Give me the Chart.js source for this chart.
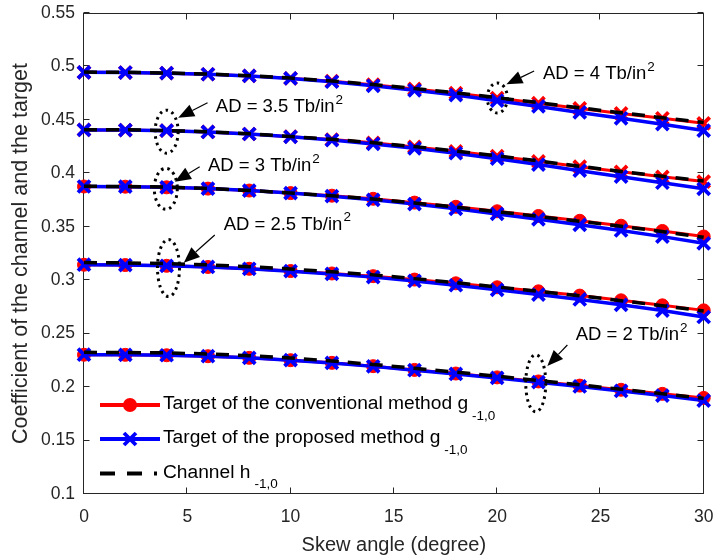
<!DOCTYPE html>
<html><head><meta charset="utf-8">
<script src="https://cdn.jsdelivr.net/npm/chart.js@4.4.1/dist/chart.umd.min.js"></script>
<style>html,body{margin:0;padding:0;background:#fff;}#wrap{width:716px;height:558px;}</style>
</head><body><div id="wrap"><canvas id="c" width="716" height="558"></canvas></div>
<script>
// ---------- data ----------
const skewAngles = [0,2,4,6,8,10,12,14,16,18,20,22,24,26,28,30];
const xTickValues = [0,5,10,15,20,25,30];
const xTickLabels = ['0','5','10','15','20','25','30'];
const yTickValues = [0.1,0.15,0.2,0.25,0.3,0.35,0.4,0.45,0.5,0.55];
const yTickLabels = ['0.1','0.15','0.2','0.25','0.3','0.35','0.4','0.45','0.5','0.55'];

// Target of the conventional method g_{-1,0}
const conv_AD4  = [0.4945,0.4943,0.4937,0.4927,0.4911,0.4889,0.4862,0.4829,0.4790,0.4750,0.4704,0.4656,0.4607,0.4560,0.4515,0.4468];
const conv_AD35 = [0.4406,0.4405,0.4399,0.4387,0.4368,0.4343,0.4316,0.4285,0.4247,0.4206,0.4161,0.4112,0.4062,0.4014,0.3967,0.3923];
const conv_AD3  = [0.3877,0.3875,0.3869,0.3857,0.3839,0.3815,0.3791,0.3762,0.3726,0.3687,0.3645,0.3601,0.3556,0.3510,0.3461,0.3409];
const conv_AD25 = [0.3145,0.3142,0.3135,0.3124,0.3107,0.3086,0.3063,0.3038,0.3006,0.2971,0.2934,0.2896,0.2856,0.2812,0.2765,0.2718];
const conv_AD2  = [0.2303,0.2302,0.2298,0.2289,0.2274,0.2252,0.2227,0.2196,0.2161,0.2127,0.2091,0.2053,0.2014,0.1975,0.1937,0.1899];
// Target of the proposed method g_{-1,0}
const prop_AD4  = [0.4945,0.4943,0.4937,0.4927,0.4911,0.4888,0.4857,0.4819,0.4777,0.4732,0.4680,0.4626,0.4570,0.4515,0.4460,0.4400];
const prop_AD35 = [0.4406,0.4405,0.4399,0.4387,0.4368,0.4342,0.4311,0.4275,0.4234,0.4188,0.4137,0.4082,0.4025,0.3969,0.3912,0.3855];
const prop_AD3  = [0.3877,0.3875,0.3869,0.3857,0.3839,0.3815,0.3786,0.3752,0.3712,0.3668,0.3620,0.3570,0.3518,0.3465,0.3408,0.3345];
const prop_AD25 = [0.3145,0.3142,0.3135,0.3124,0.3107,0.3085,0.3059,0.3029,0.2993,0.2953,0.2910,0.2866,0.2820,0.2770,0.2716,0.2656];
const prop_AD2  = [0.2303,0.2302,0.2298,0.2289,0.2274,0.2252,0.2226,0.2194,0.2158,0.2123,0.2086,0.2046,0.2006,0.1964,0.1921,0.1874];
// Channel h_{-1,0}
const chan_AD4  = [0.4947,0.4945,0.4939,0.4929,0.4913,0.4891,0.4864,0.4831,0.4793,0.4753,0.4708,0.4661,0.4613,0.4566,0.4521,0.4475];
const chan_AD35 = [0.4408,0.4407,0.4401,0.4389,0.4370,0.4345,0.4318,0.4287,0.4250,0.4209,0.4164,0.4116,0.4066,0.4018,0.3972,0.3928];
const chan_AD3  = [0.3879,0.3877,0.3871,0.3859,0.3840,0.3816,0.3790,0.3760,0.3723,0.3684,0.3641,0.3597,0.3551,0.3505,0.3455,0.3402];
const chan_AD25 = [0.3165,0.3162,0.3155,0.3144,0.3126,0.3104,0.3079,0.3050,0.3015,0.2977,0.2937,0.2896,0.2854,0.2809,0.2761,0.2713];
const chan_AD2  = [0.2325,0.2324,0.2320,0.2310,0.2294,0.2272,0.2245,0.2212,0.2176,0.2140,0.2102,0.2062,0.2021,0.1980,0.1938,0.1895];

const legendLabels = ['Target of the conventional method g', 'Target of the proposed method g', 'Channel h'];
const legendSubs = ['-1,0', '-1,0', '-1,0'];
const xTitle = 'Skew angle (degree)';
const yTitle = 'Coefficient of the channel and the target';

// annotations (in data coordinates)
const annotations = [
  {text:'AD = 4 Tb/in',   sup:'2', tx:22.22, ty:0.4931, ex:20.01, ey:0.4705, rx:10,   ry:15,   ax0:21.79, ay0:0.4957, ax1:20.45, ay1:0.4833},
  {text:'AD = 3.5 Tb/in', sup:'2', tx:6.38,  ty:0.4621, ex:4.00,  ey:0.4390, rx:11.5, ry:21.5, ax0:5.98,  ay0:0.4661, ax1:4.56,  ay1:0.4520},
  {text:'AD = 3 Tb/in',   sup:'2', tx:6.00,  ty:0.4069, ex:3.96,  ey:0.3855, rx:11.5, ry:20.5, ax0:5.60,  ay0:0.4062, ax1:4.40,  ay1:0.3922},
  {text:'AD = 2.5 Tb/in', sup:'2', tx:6.76,  ty:0.3519, ex:4.09,  ey:0.3114, rx:11,   ry:28.5, ax0:6.33,  ay0:0.3423, ax1:4.83,  ay1:0.3164},
  {text:'AD = 2 Tb/in',   sup:'2', tx:23.80, ty:0.2488, ex:21.87, ey:0.2036, rx:10,   ry:28.5, ax0:23.40, ay0:0.2394, ax1:22.43, ay1:0.2198}
];

// ---------- styles ----------
const RED = '#ff0000', BLUE = '#0000ff', BLACK = '#000000';
const FONT = '"Liberation Sans", Arial, sans-serif';
const AXC = '#262626';

function toXY(arr){ return arr.map((v,i)=>({x:skewAngles[i], y:v})); }

function convDS(arr, marker){
  return {data:toXY(arr), borderColor:RED, backgroundColor:RED, borderWidth:3,
    pointStyle:marker, pointRadius: marker==='circle'?6.5:8.5, pointBorderWidth: marker==='circle'?1:3.8,
    pointBackgroundColor:RED, pointBorderColor:RED, order:3, clip:false, tension:0};
}
function propDS(arr){
  return {data:toXY(arr), borderColor:BLUE, backgroundColor:BLUE, borderWidth:3.5,
    pointStyle:'crossRot', pointRadius:8.5, pointBorderWidth:3.8,
    pointBorderColor:BLUE, order:2, clip:false, tension:0};
}
function chanDS(arr){
  return {data:toXY(arr), borderColor:BLACK, borderWidth:3.5, borderDash:[13,9],
    pointRadius:0, order:1, clip:false, tension:0};
}

const datasets = [
  convDS(conv_AD4,'crossRot'), convDS(conv_AD35,'crossRot'), convDS(conv_AD3,'circle'), convDS(conv_AD25,'circle'), convDS(conv_AD2,'circle'),
  propDS(prop_AD4), propDS(prop_AD35), propDS(prop_AD3), propDS(prop_AD25), propDS(prop_AD2),
  chanDS(chan_AD4), chanDS(chan_AD35), chanDS(chan_AD3), chanDS(chan_AD25), chanDS(chan_AD2)
];

const framePlugin = {
  id:'frame',
  beforeDatasetsDraw(chart){
    const {ctx, chartArea:a, scales:{x,y}} = chart;
    ctx.save();
    ctx.strokeStyle = AXC; ctx.lineWidth = 1;
    const L = Math.round(a.left)-0.5, R = Math.round(a.right)-0.5, T = Math.round(a.top)+0.5, B = Math.round(a.bottom)-0.5;
    ctx.strokeRect(L, T, R-L, B-T);
    const tl = 6;
    ctx.beginPath();
    xTickValues.forEach(v=>{
      const px = Math.round(x.getPixelForValue(v))-0.5;
      ctx.moveTo(px,B); ctx.lineTo(px,B-tl);
      ctx.moveTo(px,T); ctx.lineTo(px,T+tl);
    });
    yTickValues.forEach(v=>{
      const py = Math.round(y.getPixelForValue(v))-0.5;
      ctx.moveTo(L,py); ctx.lineTo(L+tl,py);
      ctx.moveTo(R,py); ctx.lineTo(R-tl,py);
    });
    ctx.stroke();
    ctx.restore();
  }
};

const annotPlugin = {
  id:'annot',
  afterDatasetsDraw(chart){
    const {ctx, scales:{x,y}} = chart;
    ctx.save();
    annotations.forEach(a=>{
      const cx = x.getPixelForValue(a.ex), cy = y.getPixelForValue(a.ey);
      ctx.beginPath();
      ctx.setLineDash([2.5,4]);
      ctx.lineWidth = 3; ctx.strokeStyle = '#000';
      ctx.ellipse(cx, cy, a.rx, a.ry, 0, 0, Math.PI*2);
      ctx.stroke();
      ctx.setLineDash([]);
      const x0 = x.getPixelForValue(a.ax0), y0 = y.getPixelForValue(a.ay0);
      const x1 = x.getPixelForValue(a.ax1), y1 = y.getPixelForValue(a.ay1);
      const ang = Math.atan2(y1-y0, x1-x0);
      const hl = 16, hw = 6.5;
      const bx = x1 - hl*Math.cos(ang), by = y1 - hl*Math.sin(ang);
      ctx.lineWidth = 1.2;
      ctx.beginPath(); ctx.moveTo(x0,y0); ctx.lineTo(bx,by); ctx.stroke();
      ctx.beginPath();
      ctx.moveTo(x1,y1);
      ctx.lineTo(bx + hw*Math.sin(ang), by - hw*Math.cos(ang));
      ctx.lineTo(bx - hw*Math.sin(ang), by + hw*Math.cos(ang));
      ctx.closePath(); ctx.fillStyle = '#000'; ctx.fill();
      const tx = x.getPixelForValue(a.tx), ty = y.getPixelForValue(a.ty);
      ctx.fillStyle = '#000';
      ctx.textBaseline = 'middle'; ctx.textAlign = 'left';
      ctx.font = '18.5px ' + FONT;
      ctx.fillText(a.text, tx, ty);
      const w = ctx.measureText(a.text).width;
      ctx.font = '13.5px ' + FONT;
      ctx.fillText(a.sup, tx + w + 1, ty - 7);
    });
    ctx.restore();
  }
};

const legendPlugin = {
  id:'customLegend',
  afterDraw(chart){
    const ctx = chart.ctx;
    ctx.save();
    const x0 = 100, x1 = 160, mx = 130, tx = 163;
    const rows = [405, 439, 473.5];
    ctx.lineWidth = 4; ctx.strokeStyle = RED;
    ctx.beginPath(); ctx.moveTo(x0, rows[0]); ctx.lineTo(x1, rows[0]); ctx.stroke();
    ctx.fillStyle = RED; ctx.beginPath(); ctx.arc(mx, rows[0], 7, 0, Math.PI*2); ctx.fill();
    ctx.strokeStyle = BLUE; ctx.lineWidth = 4;
    ctx.beginPath(); ctx.moveTo(x0, rows[1]); ctx.lineTo(x1, rows[1]); ctx.stroke();
    ctx.lineWidth = 3.8;
    ctx.beginPath();
    ctx.moveTo(mx-6, rows[1]-6); ctx.lineTo(mx+6, rows[1]+6);
    ctx.moveTo(mx-6, rows[1]+6); ctx.lineTo(mx+6, rows[1]-6);
    ctx.stroke();
    ctx.strokeStyle = BLACK; ctx.lineWidth = 4; ctx.setLineDash([15,12]);
    ctx.beginPath(); ctx.moveTo(x0, rows[2]); ctx.lineTo(157, rows[2]); ctx.stroke();
    ctx.setLineDash([]);
    ctx.fillStyle = '#000'; ctx.textBaseline = 'middle'; ctx.textAlign = 'left';
    legendLabels.forEach((t,i)=>{
      ctx.font = '19.2px ' + FONT;
      ctx.fillText(t, tx, rows[i]-1);
      const w = ctx.measureText(t).width;
      ctx.font = '13.5px ' + FONT;
      ctx.fillText(legendSubs[i], tx + w + 4, rows[i] + 11);
    });
    ctx.restore();
  }
};

new Chart(document.getElementById('c'), {
  type:'line',
  data:{datasets},
  options:{
    responsive:false, animation:false, events:[],
    layout:{padding:{left:0, top:13, right:11, bottom:0}},
    plugins:{legend:{display:false}, tooltip:{enabled:false}},
    scales:{
      x:{type:'linear', min:0, max:30,
        afterBuildTicks(s){ s.ticks = xTickValues.map(v=>({value:v})); },
        afterFit(s){ s.height = 64; s.paddingLeft = 0; s.paddingRight = 0; },
        grid:{display:false, drawTicks:false}, border:{display:false},
        ticks:{callback:(v,i)=>xTickLabels[i], color:AXC, font:{family:FONT, size:17.5}, padding:13, maxRotation:0, autoSkip:false},
        title:{display:true, text:xTitle, color:AXC, font:{family:FONT, size:20}, padding:{top:0, bottom:1}}
      },
      y:{type:'linear', min:0.1, max:0.55,
        afterBuildTicks(s){ s.ticks = yTickValues.map(v=>({value:v})); },
        afterFit(s){ s.width = 84; s.paddingTop = 0; s.paddingBottom = 0; },
        grid:{display:false, drawTicks:false}, border:{display:false},
        ticks:{callback:(v,i)=>yTickLabels[i], color:AXC, font:{family:FONT, size:17.5}, padding:9, autoSkip:false},
        title:{display:true, text:yTitle, color:AXC, font:{family:FONT, size:21.5}, padding:{top:8, bottom:0}}
      }
    }
  },
  plugins:[framePlugin, annotPlugin, legendPlugin]
});
</script>
</body></html>
